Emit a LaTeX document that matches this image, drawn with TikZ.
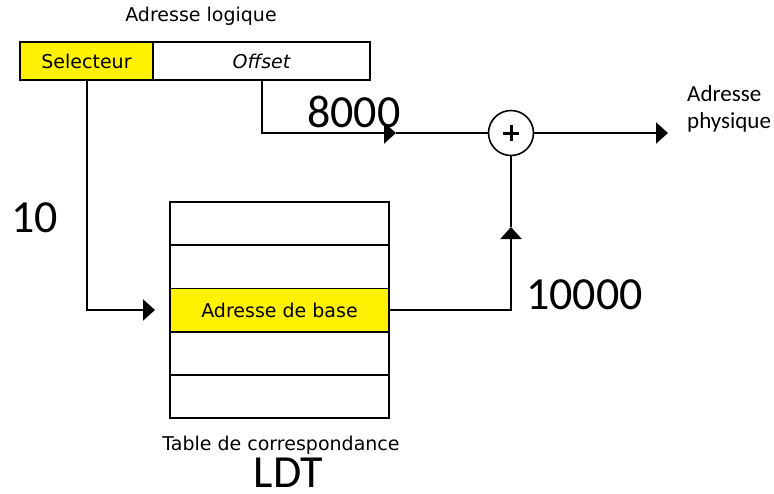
\documentclass[tikz,border=0pt]{standalone}
\usepackage{fontspec}
\setmainfont{DejaVu Sans}
\newfontfamily\calib{Carlito}
\usetikzlibrary{arrows.meta}
\begin{document}
\begin{tikzpicture}[x=1pt,y=-1pt,
  cell/.style={draw=black,line width=1.8pt,minimum width=219pt,minimum height=43.2pt,inner sep=0pt,outer sep=0pt,font=\fontsize{19}{20}\selectfont},
  topcell/.style={draw=black,line width=1.8pt,minimum height=38pt,inner sep=0pt,outer sep=0pt,font=\fontsize{19}{20}\selectfont},
  wire/.style={line width=2pt},
  arr/.style={wire,-{Triangle[length=12pt,width=21pt]}},
  big/.style={font=\calib\fontsize{46}{50}\selectfont,inner sep=0pt},
  small/.style={font=\fontsize{19}{20}\selectfont,inner sep=0pt}
]
\useasboundingbox (0,0) rectangle (774,493);
% logical address
\node[small] (lal) at (201,16) {Adresse logique};
\node[topcell,fill=yellow,minimum width=133pt] (sel) at (86.5,61) {Selecteur};
\node[topcell,minimum width=217pt] (off) at (261.5,61) {\itshape Offset};
% table
\node[cell] (r1) at (279.5,223.6) {};
\node[cell] (r2) at (279.5,266.8) {};
\node[cell,fill=yellow] (r3) at (279.5,310) {Adresse de base};
\node[cell] (r4) at (279.5,353.2) {};
\node[cell] (r5) at (279.5,396.4) {};
\node[small,anchor=base] (tdc) at (281,450) {Table de correspondance};
\node[big,anchor=base] (ldt) at (288.5,487) {LDT};
% adder
\node[draw,circle,line width=1.6pt,minimum size=45pt,inner sep=0pt] (plus) at (511,133) {};
\draw[line width=3pt] ([xshift=-8pt]plus.center) -- ([xshift=8pt]plus.center)
  ([yshift=-8pt]plus.center) -- ([yshift=8pt]plus.center);
\node[font=\calib\fontsize{23}{27}\selectfont,align=left,anchor=base west,inner sep=0pt] (phys) at (687,128) {Adresse\\physique};
\coordinate (out) at (668,133);
% connectors
\coordinate (m1) at (396,133);
\coordinate (m2) at (511,227);
\coordinate (selend) at (155,310);
\draw[arr] (sel.south) |- (selend);
\draw[arr] (off.south) |- (m1);
\draw[wire] (m1) -- (plus.west);
\draw[arr] (r3.east) -| (m2);
\draw[wire] (m2) -- (plus.south);
\draw[arr] (plus.east) -- (out);
% labels
\node[big,anchor=base west] (l8000) at (307,127) {8000};
\node[big,anchor=base west] (l10) at (11,232) {10};
\node[big,anchor=base west] (l10000) at (526,309) {10000};
\end{tikzpicture}
\end{document}
